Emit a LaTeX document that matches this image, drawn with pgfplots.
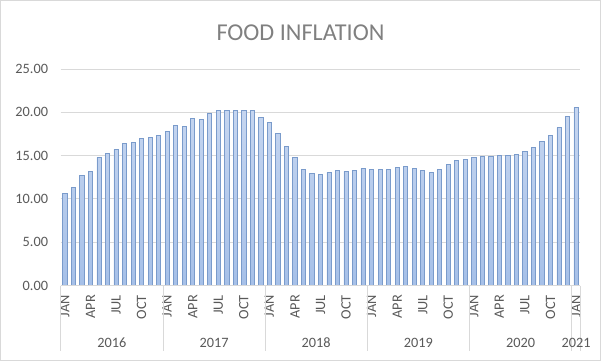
\documentclass[border=0pt]{standalone}
\usepackage{pgfplots}
\pgfplotsset{compat=1.18}
\usepackage{fontspec}
\setmainfont{Carlito}
\definecolor{bartop}{HTML}{C6D6F0}
\definecolor{barbot}{HTML}{A6C0E8}
\definecolor{barline}{HTML}{7A9BCB}
\definecolor{gridc}{HTML}{D9D9D9}
\definecolor{txt}{HTML}{595959}
\definecolor{ttl}{HTML}{808080}
\begin{document}
\begin{tikzpicture}
\path[use as bounding box] (0,0) rectangle (601bp,361bp);
\draw[gridc, line width=0.8bp] (0.5bp,0.5bp) rectangle (600.5bp,360.5bp);
\node[font=\fontsize{24.2bp}{27bp}\selectfont, text=ttl] at (300.5bp,328.5bp) {FOOD INFLATION};
\begin{axis}[
  at={(60.7bp,75.5bp)}, anchor=south west,
  scale only axis, width=519.6bp, height=216.5bp,
  xmin=-0.5, xmax=60.5, ymin=0, ymax=25,
  ybar, bar width=4.2bp,
  axis line style={draw=none},
  ytick={0,5,10,15,20,25},
  ymajorgrids, grid style={gridc, line width=0.8bp},
  major tick length=0pt,
  xtick={0,3,...,60},
  xticklabels={JAN,APR,JUL,OCT,JAN,APR,JUL,OCT,JAN,APR,JUL,OCT,JAN,APR,JUL,OCT,JAN,APR,JUL,OCT,JAN},
  xticklabel style={rotate=90, anchor=east, inner sep=0pt, text=txt, font=\fontsize{14.3bp}{16bp}\selectfont},
  xticklabel shift=9.5bp,
  yticklabel style={anchor=east, inner sep=0pt, text=txt, font=\fontsize{14.3bp}{16bp}\selectfont},
  yticklabel shift=12.5bp,
  /pgf/number format/.cd, fixed, fixed zerofill, precision=2, assume math mode=true,
  /pgfplots/.cd,
  clip=false,
]
\addplot[draw=barline, line width=0.8bp, top color=bartop, bottom color=barbot] coordinates {
(0,10.65) (1,11.34) (2,12.72) (3,13.18) (4,14.79) (5,15.25) (6,15.71) (7,16.40) (8,16.51) (9,16.97) (10,17.09) (11,17.32)
(12,17.78) (13,18.47) (14,18.35) (15,19.27) (16,19.16) (17,19.85) (18,20.19) (19,20.19) (20,20.19) (21,20.19) (22,20.19) (23,19.39)
(24,18.81) (25,17.55) (26,16.05) (27,14.79) (28,13.41) (29,12.95) (30,12.84) (31,13.07) (32,13.30) (33,13.18) (34,13.30) (35,13.52)
(36,13.41) (37,13.41) (38,13.41) (39,13.64) (40,13.75) (41,13.52) (42,13.30) (43,13.07) (44,13.41) (45,13.98) (46,14.44) (47,14.56)
(48,14.79) (49,14.90) (50,14.90) (51,15.02) (52,15.02) (53,15.13) (54,15.48) (55,15.94) (56,16.63) (57,17.32) (58,18.24) (59,19.50)
(60,20.54)
};
\draw[gridc, line width=0.8bp] (axis cs:-0.5,0) -- (axis cs:60.5,0);
\pgfplotsinvokeforeach{-0.5,11.5,23.5,35.5,47.5,59.5,60.5}{
  \draw[gridc, line width=0.8bp] (axis cs:#1,0) -- ++(0pt,-65.5bp);
}
\pgfplotsinvokeforeach{5.5,17.5,29.5,41.5,53.5}{
  \node[text=txt, font=\fontsize{14.3bp}{16bp}\selectfont, inner sep=0pt] at ([yshift=-57bp]axis cs:#1,0) {\pgfmathparse{int(2016+(#1-5.5)/12)}\pgfmathresult};
}
\node[text=txt, font=\fontsize{14.3bp}{16bp}\selectfont, inner sep=0pt] at ([yshift=-57bp]axis cs:60,0) {2021};
\end{axis}
\end{tikzpicture}
\end{document}
